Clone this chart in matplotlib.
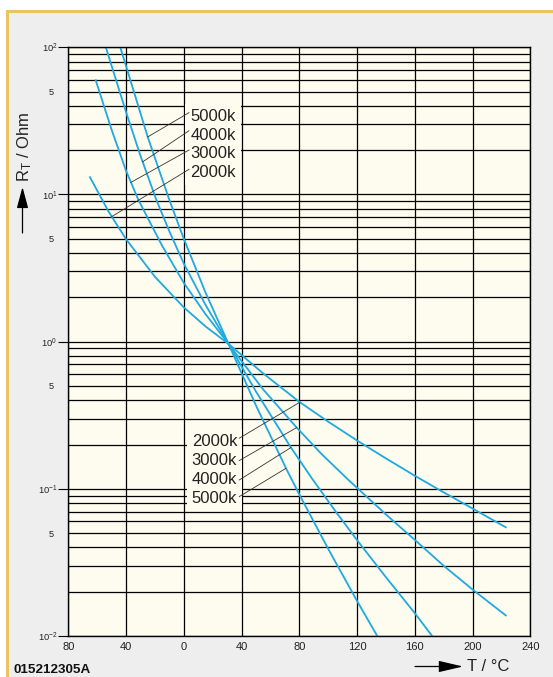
import numpy as np
import matplotlib.pyplot as plt
from matplotlib.patches import Rectangle

plt.rcParams['font.family'] = ['Liberation Sans', 'DejaVu Sans']
plt.rcParams['mathtext.fontset'] = 'custom'
plt.rcParams['mathtext.rm'] = 'Liberation Sans'
plt.rcParams['mathtext.it'] = 'Liberation Sans:italic'
plt.rcParams['mathtext.bf'] = 'Liberation Sans:bold'

# curves (T in degC, normalised R)
t_2000 = [-65, -52, -40, -20, 0, 15, 31, 55, 80, 100, 120, 140, 160, 180, 200, 223]
r_2000 = [13.1, 7.62, 4.97, 2.76, 1.71, 1.27, 0.965, 0.608, 0.39, 0.286, 0.213,
          0.161, 0.1227, 0.0946, 0.0735, 0.0548]

t_3000 = [-61, -50, -40, -31.5, -15, 0, 15, 31, 55, 78, 95, 114, 143, 160, 180, 200, 223]
r_3000 = [59.7, 27.5, 14.5, 9.2, 4.48, 2.51, 1.54, 0.965, 0.473, 0.262, 0.174, 0.115,
          0.063, 0.045, 0.030, 0.0207, 0.0138]

t_4000 = [-54, -40, -30, -19, -10, 0, 15, 31, 50, 74, 89, 105, 120, 140, 160, 172]
r_4000 = [100, 36.3, 18.3, 9.18, 5.62, 3.39, 1.78, 0.965, 0.458, 0.192, 0.1167, 0.0705,
          0.0448, 0.0251, 0.0143, 0.01]

t_5000 = [-44, -40, -25, -10, 0, 15, 31, 50, 71, 80, 100, 120, 134]
r_5000 = [100, 74.6, 24.6, 9.18, 5.0, 2.16, 0.965, 0.368, 0.1366, 0.0916, 0.0391, 0.0173, 0.01]

names = ['2000k', '3000k', '4000k', '5000k']

x_ticks = [-80, -40, 0, 40, 80, 120, 160, 200, 240]
x_tick_labels = ['80', '40', '0', '40', '80', '120', '160', '200', '240']
y_major = [1e-2, 1e-1, 1e0, 1e1, 1e2]
y_major_labels = ['$10^{-2}$', '$10^{-1}$', '$10^{0}$', '$10^{1}$', '$10^{2}$']

W, H = 553, 677
blue = '#1ea9e1'
cream = '#fefcee'

fig = plt.figure(figsize=(W / 100, H / 100), dpi=100)
fig.patch.set_facecolor('white')
fig.add_artist(Rectangle((8.7 / W, 0), 1, 1 - 12.7 / H, transform=fig.transFigure,
                         facecolor='#eeeeee', edgecolor='none', zorder=-5))
fig.add_artist(Rectangle((6 / W, 0), 2.7 / W, 1 - 10 / H, transform=fig.transFigure,
                         facecolor='#e8c465', edgecolor='none', zorder=-4))
fig.add_artist(Rectangle((6 / W, 1 - 12.7 / H), 1, 2.7 / H, transform=fig.transFigure,
                         facecolor='#e8c465', edgecolor='none', zorder=-4))

ax = fig.add_axes([68.3 / W, 1 - 636 / H, (530.3 - 68.3) / W, (636 - 47.3) / H])
ax.set_facecolor(cream)
ax.set_yscale('log')
ax.set_xlim(-80, 240)
ax.set_ylim(1e-2, 1e2)

ax.set_xticks(x_ticks, labels=x_tick_labels)
ax.set_yticks(y_major, labels=y_major_labels)
minor = [m * 10.0 ** e for e in range(-2, 2) for m in range(2, 10)]
ax.set_yticks(minor, labels=['5' if abs(v / 10 ** np.floor(np.log10(v)) - 5) < 1e-6 else ''
                             for v in minor], minor=True)

ax.grid(which='both', color='black', lw=0.9)
ax.set_axisbelow(True)
for s in ax.spines.values():
    s.set_linewidth(1.0)
ax.tick_params(axis='x', length=0, pad=4, labelsize=8, labelcolor='#222222')
ax.tick_params(axis='y', which='major', length=7.2, width=0.8, pad=0.8,
               labelsize=6.7, labelcolor='#222222')
ax.tick_params(axis='y', which='minor', length=0, pad=10.5,
               labelsize=6.7, labelcolor='#222222')

curves = [(t_2000, r_2000), (t_3000, r_3000), (t_4000, r_4000), (t_5000, r_5000)]
for t, r in curves:
    ax.plot(t, r, color=blue, lw=1.3)


def on_curve(i, T):
    t, r = curves[i]
    return T, 10 ** np.interp(T, t, np.log10(r))


# upper labels
ax.text(4.5, 21.9, '\n'.join(names[::-1]), ha='left', va='center', fontsize=12,
        linespacing=1.31, color='#222222',
        bbox=dict(boxstyle='square,pad=0.3', facecolor=cream, edgecolor='none'))
up_start = [1.171, 1.302, 1.433, 1.556]
up_end = [-49.9, -36.6, -28.5, -25.0]
for i in range(4):
    x1, y1 = on_curve(i, up_end[i])
    ax.plot([3.6, x1], [10 ** up_start[i], y1], color='#333333', lw=0.6, zorder=4)

# lower labels
ax.text(5.5, 0.1344, '\n'.join(names), ha='left', va='center', fontsize=12,
        linespacing=1.31, color='#222222',
        bbox=dict(boxstyle='square,pad=0.3', facecolor=cream, edgecolor='none'))
lo_start = [-0.656, -0.808, -0.940, -1.053]
lo_end = [80.4, 78.2, 74.2, 70.8]
for i in range(4):
    x1, y1 = on_curve(i, lo_end[i])
    ax.plot([38.4, x1], [10 ** lo_start[i], y1], color='#333333', lw=0.6, zorder=4)

# axis titles with arrows
fig.text(25 / W, 1 - 146.5 / H, r'R$_\mathregular{T}$ / Ohm', rotation=90,
         ha='center', va='center', fontsize=12, color='#222222')
ax.annotate('', xy=(22.5 / W, 1 - 187 / H), xytext=(22.5 / W, 1 - 233 / H),
            xycoords='figure fraction',
            arrowprops=dict(arrowstyle='-|>,head_length=1.3,head_width=0.35',
                            color='black', lw=0.9, shrinkA=0, shrinkB=0))
fig.text(466.7 / W, 1 - 666.7 / H, 'T / °C', ha='left', va='center', fontsize=12,
         color='#222222')
ax.annotate('', xy=(463 / W, 1 - 666.5 / H), xytext=(415 / W, 1 - 666.5 / H),
            xycoords='figure fraction',
            arrowprops=dict(arrowstyle='-|>,head_length=1.5,head_width=0.35',
                            color='black', lw=0.9, shrinkA=0, shrinkB=0))
fig.text(13 / W, 1 - 670 / H, '015212305A', fontweight='bold', fontsize=9.7,
         ha='left', va='center', color='#111111')

fig.savefig('out.png', dpi=100, facecolor=fig.get_facecolor())
